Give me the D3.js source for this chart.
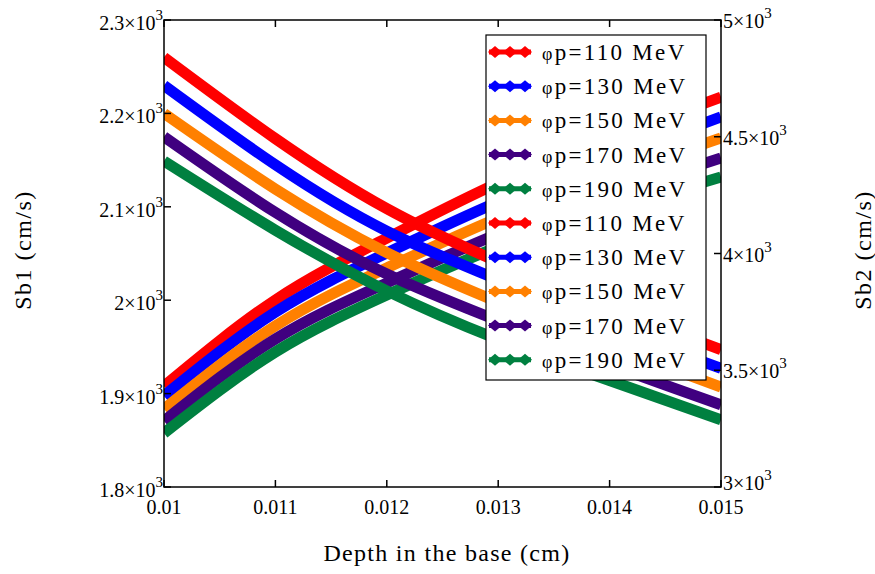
<!DOCTYPE html>
<html>
<head>
<meta charset="utf-8">
<script src="https://cdn.jsdelivr.net/npm/d3@7"></script>
<style>
  html, body { margin: 0; padding: 0; background: #fff; }
  svg { display: block; font-family: "Liberation Serif", "Times New Roman", serif; }
</style>
</head>
<body>
<div id="chart"></div>
<script>
// ── Données ──
const depth    = [0.010, 0.011, 0.012, 0.013, 0.014, 0.015];   // cm
const energies = ['110', '130', '150', '170', '190'];           // MeV
const colors   = ['#ff0000', '#0000ff', '#ff8000', '#400080', '#008040'];

// Sb1 (axe gauche) : courbes décroissantes
const sb1_110 = [2260, 2173, 2098, 2041, 1992, 1947];
const sb1_130 = [2230, 2145, 2074, 2022, 1972, 1927];
const sb1_150 = [2200, 2119, 2051, 1998, 1951, 1907];
const sb1_170 = [2175, 2094, 2028, 1978, 1931, 1888];
const sb1_190 = [2149, 2075, 2010, 1958, 1914, 1872];

// Sb2 (axe droit) : courbes croissantes
const sb2_110 = [3432, 3801, 4066, 4302, 4495, 4670];
const sb2_130 = [3390, 3749, 4002, 4221, 4409, 4585];
const sb2_150 = [3334, 3690, 3938, 4152, 4332, 4495];
const sb2_170 = [3283, 3634, 3874, 4084, 4255, 4409];
const sb2_190 = [3231, 3578, 3822, 4028, 4186, 4328];

const sb1Series = [sb1_110, sb1_130, sb1_150, sb1_170, sb1_190];
const sb2Series = [sb2_110, sb2_130, sb2_150, sb2_170, sb2_190];

const xTicks   = [0.010, 0.011, 0.012, 0.013, 0.014, 0.015];
const xLabels  = ['0.01', '0.011', '0.012', '0.013', '0.014', '0.015'];
const y1Ticks  = [1800, 1900, 2000, 2100, 2200, 2300];
const y1Labels = ['1.8', '1.9', '2', '2.1', '2.2', '2.3'];
const y2Ticks  = [3000, 3500, 4000, 4500, 5000];
const y2Labels = ['3', '3.5', '4', '4.5', '5'];

// ── Mise en page ──
const W = 875, H = 574;
const M = { left: 164, right: 721, top: 20, bottom: 487 };

const svg = d3.select('#chart').append('svg')
    .attr('width', W).attr('height', H);

const x  = d3.scaleLinear().domain([0.010, 0.015]).range([M.left, M.right]);
const y1 = d3.scaleLinear().domain([1800, 2300]).range([M.bottom, M.top]);
const y2 = d3.scaleLinear().domain([3000, 5000]).range([M.bottom, M.top]);

svg.append('defs').append('clipPath').attr('id', 'plot')
    .append('rect')
    .attr('x', M.left).attr('y', M.top)
    .attr('width', M.right - M.left).attr('height', M.bottom - M.top);

// ── Courbes ──
const line1 = d3.line().x((d, i) => x(depth[i])).y(d => y1(d)).curve(d3.curveNatural);
const line2 = d3.line().x((d, i) => x(depth[i])).y(d => y2(d)).curve(d3.curveNatural);

const gLines = svg.append('g').attr('clip-path', 'url(#plot)');

// les courbes croissantes sont dessinées sous les décroissantes
gLines.selectAll('path.sb2')
    .data(sb2Series)
    .join('path')
    .attr('class', 'sb2')
    .attr('d', line2)
    .attr('fill', 'none')
    .attr('stroke', (d, i) => colors[i])
    .attr('stroke-width', 11);

gLines.selectAll('path.sb1')
    .data(sb1Series)
    .join('path')
    .attr('class', 'sb1')
    .attr('d', line1)
    .attr('fill', 'none')
    .attr('stroke', (d, i) => colors[i])
    .attr('stroke-width', 11);

// ── Axes (ticks vers l'intérieur) ──
const tickLen = 7;
const gAxes = svg.append('g').attr('stroke', '#000').attr('stroke-width', 1.5);

// x : bas et haut
xTicks.forEach(t => {
    gAxes.append('line').attr('x1', x(t)).attr('x2', x(t))
        .attr('y1', M.bottom).attr('y2', M.bottom - tickLen);
    gAxes.append('line').attr('x1', x(t)).attr('x2', x(t))
        .attr('y1', M.top).attr('y2', M.top + tickLen);
});
// y gauche
y1Ticks.forEach(t => {
    gAxes.append('line').attr('x1', M.left).attr('x2', M.left + tickLen)
        .attr('y1', y1(t)).attr('y2', y1(t));
});
// y droit
y2Ticks.forEach(t => {
    gAxes.append('line').attr('x1', M.right).attr('x2', M.right - tickLen)
        .attr('y1', y2(t)).attr('y2', y2(t));
});

svg.append('rect')
    .attr('x', M.left).attr('y', M.top)
    .attr('width', M.right - M.left).attr('height', M.bottom - M.top)
    .attr('fill', 'none').attr('stroke', '#000').attr('stroke-width', 1.5);

// ── Libellés des ticks ──
const sci = (sel, mant) => {
    sel.append('tspan').text(mant + '×10');
    sel.append('tspan').attr('dy', -10).attr('font-size', 15).text('3');
};

svg.append('g').selectAll('text')
    .data(xTicks)
    .join('text')
    .attr('x', d => x(d))
    .attr('y', 514)
    .attr('text-anchor', 'middle')
    .attr('font-size', 20)
    .text((d, i) => xLabels[i]);

svg.append('g').selectAll('text')
    .data(y1Ticks)
    .join('text')
    .attr('x', M.left - 1)
    .attr('y', d => y1(d) + 10)
    .attr('text-anchor', 'end')
    .attr('font-size', 20)
    .each(function (d, i) { sci(d3.select(this), y1Labels[i]); });

// le dernier libellé (3×10³) est remonté pour ne pas toucher 0.015
svg.append('g').selectAll('text')
    .data(y2Ticks)
    .join('text')
    .attr('x', M.right + 2)
    .attr('y', (d, i) => y2(d) + (i === 0 ? 3 : 8))
    .attr('text-anchor', 'start')
    .attr('font-size', 20)
    .each(function (d, i) { sci(d3.select(this), y2Labels[i]); });

// ── Titres des axes ──
svg.append('text')
    .attr('x', 447).attr('y', 561)
    .attr('text-anchor', 'middle').attr('font-size', 24)
    .attr('letter-spacing', 1.3)
    .text('Depth in the base (cm)');

svg.append('text')
    .attr('transform', 'translate(31,250) rotate(-90)')
    .attr('text-anchor', 'middle').attr('font-size', 24)
    .attr('letter-spacing', 1.5)
    .text('Sb1 (cm/s)');

svg.append('text')
    .attr('transform', 'translate(871,250) rotate(-90)')
    .attr('text-anchor', 'middle').attr('font-size', 24)
    .attr('letter-spacing', 1.5)
    .text('Sb2 (cm/s)');

// ── Légende ──
const legendItems = sb1Series.map((s, i) => ({ e: energies[i], c: colors[i] }))
    .concat(sb2Series.map((s, i) => ({ e: energies[i], c: colors[i] })));

const lg = svg.append('g');
lg.append('rect')
    .attr('x', 486).attr('y', 35).attr('width', 220).attr('height', 345)
    .attr('fill', '#fff').attr('stroke', '#000').attr('stroke-width', 1.2);

const rowY = i => 52 + i * 34.2;
const rows = lg.selectAll('g.row')
    .data(legendItems)
    .join('g')
    .attr('class', 'row')
    .attr('transform', (d, i) => `translate(0,${rowY(i)})`);

rows.append('line')
    .attr('x1', 489).attr('x2', 531).attr('y1', 0).attr('y2', 0)
    .attr('stroke', d => d.c).attr('stroke-width', 5);

rows.selectAll('path')
    .data(d => [495, 510, 525].map(px => ({ px, c: d.c })))
    .join('path')
    .attr('d', d => `M${d.px - 7},0 L${d.px},-6 L${d.px + 7},0 L${d.px},6 Z`)
    .attr('fill', d => d.c);

rows.append('text')
    .attr('x', 542).attr('y', 8)
    .attr('font-size', 23)
    .attr('letter-spacing', 2.3)
    .each(function (d) {
        const t = d3.select(this);
        t.append('tspan').attr('font-size', 18).text('φ');
        t.append('tspan').text('p=' + d.e + ' MeV');
    });
</script>
</body>
</html>
